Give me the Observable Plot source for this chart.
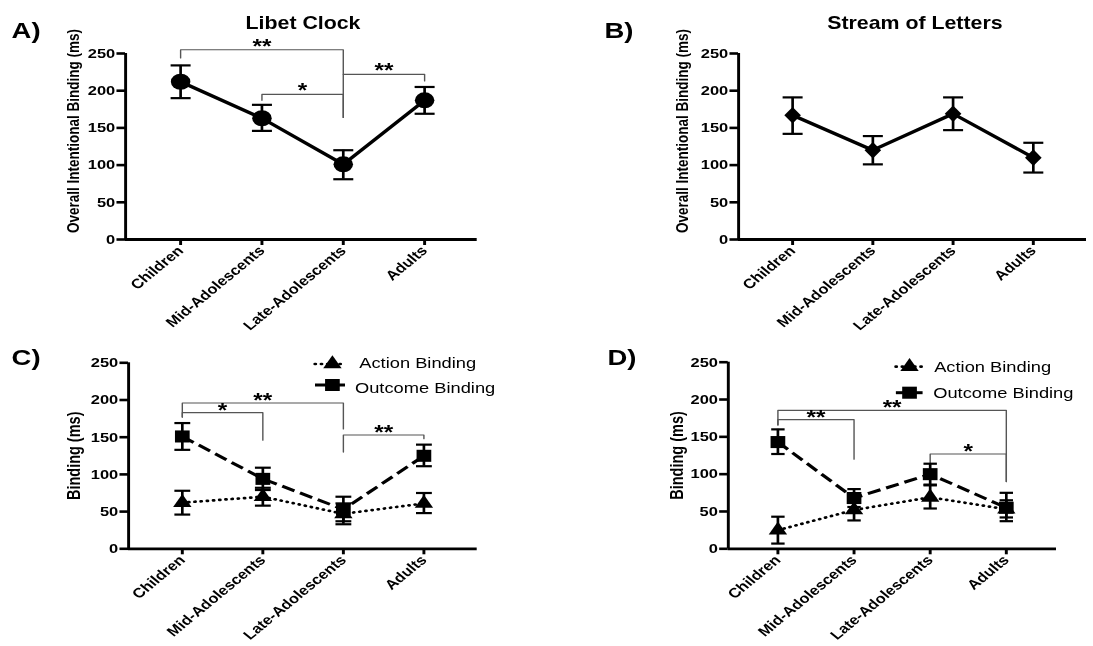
<!DOCTYPE html>
<html><head><meta charset="utf-8">
<script src="https://cdn.jsdelivr.net/npm/d3@7"></script>
<script src="https://cdn.jsdelivr.net/npm/@observablehq/plot@0.6"></script>
<style>
html,body{margin:0;padding:0;background:#fff;}
#wrap{position:relative;width:1093px;height:646px;overflow:hidden;background:#fff;}
#stage{position:absolute;left:0;top:0;width:896px;height:646px;transform:scaleX(1.21987);transform-origin:0 0;font-family:"Liberation Sans",Arial,sans-serif;}
#stage svg{position:absolute;}
</style></head><body><div id="wrap"><div id="stage"></div></div>
<script>
// ---------------- data ----------------
const groups = ["Children", "Mid-Adolescents", "Late-Adolescents", "Adults"];
const yTicks = [0, 50, 100, 150, 200, 250];

// A) Libet Clock – overall intentional binding (ms)
const libetMean = [212, 163, 101, 187];
const libetLow  = [190, 146, 81, 169];
const libetHigh = [234, 181, 120, 205];

// B) Stream of Letters – overall intentional binding (ms)
const streamMean = [167, 120, 169, 110];
const streamLow  = [142, 101, 147, 90];
const streamHigh = [191, 139, 191, 130];

// C) Libet Clock – action / outcome binding (ms)
const libetActionMean  = [62, 70, 47, 61];
const libetActionLow   = [46, 58, 33, 48];
const libetActionHigh  = [78, 82, 61, 75];
const libetOutcomeMean = [151, 94, 53, 125];
const libetOutcomeLow  = [133, 79, 37, 111];
const libetOutcomeHigh = [169, 109, 70, 140];

// D) Stream of Letters – action / outcome binding (ms)
const streamActionMean  = [25, 52, 69, 53];
const streamActionLow   = [7, 38, 54, 37];
const streamActionHigh  = [43, 65, 85, 65];
const streamOutcomeMean = [143, 68, 100, 55];
const streamOutcomeLow  = [127, 56, 86, 42];
const streamOutcomeHigh = [160, 80, 114, 75];

// significance brackets (values in ms): bracket top, end of left leg, end of right leg
const bracketsA = [
  {from: "Children", to: "Late-Adolescents", top: 255, left: 244, right: 164, label: "**"},
  {from: "Mid-Adolescents", to: "Late-Adolescents", top: 195, left: 187, right: 164, label: "*"},
  {from: "Late-Adolescents", to: "Adults", top: 222, left: 222, right: 213, label: "**"}
];
const bracketsC = [
  {from: "Children", to: "Late-Adolescents", top: 196, left: 177, right: 161, label: "**"},
  {from: "Children", to: "Mid-Adolescents", top: 183, left: 177, right: 146, label: "*"},
  {from: "Late-Adolescents", to: "Adults", top: 153, left: 130, right: 148, label: "**"}
];
const bracketsD = [
  {from: "Children", to: "Adults", top: 185.5, left: 166, right: 90, label: "**"},
  {from: "Children", to: "Mid-Adolescents", top: 173, left: 166, right: 120, label: "**"},
  {from: "Late-Adolescents", to: "Adults", top: 127, left: 115, right: 90, label: "*"}
];

// ---------------- helpers ----------------
const S = 1093 / 896;   // horizontal stretch of the original figure
const FONT = "Liberation Sans, Arial, Helvetica, sans-serif";

const rowsOf = (m, lo, hi) => groups.map((g, i) => ({i, group: g, mean: m[i], low: lo[i], high: hi[i]}));

const capSymbol = {draw(ctx, size) { const w = Math.sqrt(size / Math.PI); ctx.moveTo(-w, 0); ctx.lineTo(w, 0); }};
const diamondSymbol = {draw(ctx, size) { const r = Math.sqrt(size / Math.PI); ctx.moveTo(0, -r); ctx.lineTo(r * 0.82, 0); ctx.lineTo(0, r); ctx.lineTo(-r * 0.82, 0); ctx.closePath(); }};

function bracketPoints(list) {
  const pts = [];
  list.forEach((b, k) => {
    const a = groups.indexOf(b.from), c = groups.indexOf(b.to);
    pts.push({id: k, x: a, y: b.left}, {id: k, x: a, y: b.top}, {id: k, x: c, y: b.top}, {id: k, x: c, y: b.right});
  });
  return pts;
}

function makePanel(p) {
  const L = p.layout;
  const step = (L.t3 - L.t0) / 3;
  const padL = (L.t0 - L.axisX) / step, padR = (L.endX - L.t3) / step;
  const marks = [
    Plot.ruleX([-padL], {y1: 0, y2: 250, stroke: "#000", strokeWidth: 2.4}),
    Plot.ruleY([0], {x1: -padL, x2: 3 + padR, stroke: "#000", strokeWidth: 2.8}),
    Plot.axisY({ticks: yTicks, tickSize: 7, tickPadding: 1.5, strokeWidth: 2.6, fontSize: 13.5, fontWeight: "bold", label: null, fill: "#000"}),
    Plot.axisX({ticks: [0, 1, 2, 3], tickFormat: i => groups[i], tickRotate: -45, tickSize: 6, tickPadding: 3, strokeWidth: 2.4, fontSize: 13.5, fontWeight: "bold", label: null, fill: "#000"}),
    Plot.text([p.ytitle], {frameAnchor: "left", textAnchor: "middle", lineAnchor: "middle", rotate: -90, dx: p.ytDx, dy: p.ytDy, fontSize: p.ytSize, fontWeight: "bold", fill: "#000"})
  ];
  if (p.brackets) {
    marks.push(
      Plot.line(bracketPoints(p.brackets), {x: "x", y: "y", z: "id", stroke: "#555", strokeWidth: 1.15}),
      Plot.text(p.brackets, {x: b => (groups.indexOf(b.from) + groups.indexOf(b.to)) / 2, y: "top", text: "label", dy: p.starDy, fontSize: 20, fontWeight: "bold", fill: "#000"})
    );
  }
  for (const s of p.series) {
    marks.push(
      Plot.ruleX(s.rows, {x: "i", y1: "low", y2: "high", stroke: "#000", strokeWidth: 2.2}),
      Plot.dot(s.rows, {x: "i", y: "low", symbol: capSymbol, r: p.cap, stroke: "#000", fill: "none", strokeWidth: 2.2}),
      Plot.dot(s.rows, {x: "i", y: "high", symbol: capSymbol, r: p.cap, stroke: "#000", fill: "none", strokeWidth: 2.2})
    );
  }
  for (const s of p.series) {
    marks.push(Plot.line(s.rows, {x: "i", y: "mean", stroke: "#000", strokeWidth: s.lw, strokeDasharray: s.dash, strokeLinecap: s.cap, strokeLinejoin: "round"}));
  }
  for (const s of p.series) {
    marks.push(Plot.dot(s.rows, {x: "i", y: "mean", symbol: s.symbol, r: s.r, fill: "#000", stroke: "none"}));
  }
  const svg = Plot.plot({
    width: p.W, height: p.H,
    marginLeft: L.axisX / S - p.ox,
    marginRight: p.ox + p.W - L.endX / S,
    marginTop: L.yTop - p.oy,
    marginBottom: p.oy + p.H - L.yBottom,
    x: {type: "linear", domain: [-padL, 3 + padR]},
    y: {domain: [0, 250]},
    style: {background: "transparent", overflow: "visible", fontFamily: FONT, color: "#000"},
    marks
  });
  svg.style.left = p.ox + "px";
  svg.style.top = p.oy + "px";
  document.getElementById("stage").appendChild(svg);
}

// ---------------- panels ----------------
makePanel({
  ox: 0, oy: 0, W: 448, H: 328,
  layout: {axisX: 125, endX: 476.7, t0: 180, t3: 424, yTop: 53, yBottom: 239},
  ytitle: "Overall Intentional Binding (ms)", ytDx: -42.5, ytDy: -15.5, ytSize: 13.5,
  brackets: bracketsA, starDy: -3.5, cap: 8.2,
  series: [{rows: rowsOf(libetMean, libetLow, libetHigh), symbol: "circle", r: 8, lw: 3.2, dash: null, cap: "round"}]
});
makePanel({
  ox: 448, oy: 0, W: 448, H: 328,
  layout: {axisX: 738, endX: 1086, t0: 792, t3: 1032.7, yTop: 53, yBottom: 239},
  ytitle: "Overall Intentional Binding (ms)", ytDx: -46, ytDy: -15.5, ytSize: 13.5,
  brackets: null, starDy: 0, cap: 8.2,
  series: [{rows: rowsOf(streamMean, streamLow, streamHigh), symbol: diamondSymbol, r: 8.3, lw: 3.2, dash: null, cap: "round"}]
});
makePanel({
  ox: 0, oy: 328, W: 448, H: 318,
  layout: {axisX: 128, endX: 476.7, t0: 181.7, t3: 423.3, yTop: 362.3, yBottom: 548.3},
  ytitle: "Binding (ms)", ytDx: -44.7, ytDy: 0, ytSize: 14.5,
  brackets: bracketsC, starDy: -2.5, cap: 6.5,
  series: [
    {rows: rowsOf(libetActionMean, libetActionLow, libetActionHigh), symbol: "triangle", r: 5.6, lw: 2.7, dash: "0.5 4.6", cap: "round"},
    {rows: rowsOf(libetOutcomeMean, libetOutcomeLow, libetOutcomeHigh), symbol: "square", r: 6.8, lw: 3, dash: "11 5", cap: "butt"}
  ]
});
makePanel({
  ox: 448, oy: 328, W: 448, H: 318,
  layout: {axisX: 727.7, endX: 1056, t0: 777.3, t3: 1005.7, yTop: 361.7, yBottom: 548.3},
  ytitle: "Binding (ms)", ytDx: -42, ytDy: 0, ytSize: 14.5,
  brackets: bracketsD, starDy: -2.5, cap: 5.5,
  series: [
    {rows: rowsOf(streamActionMean, streamActionLow, streamActionHigh), symbol: "triangle", r: 5.6, lw: 2.7, dash: "0.5 4.6", cap: "round"},
    {rows: rowsOf(streamOutcomeMean, streamOutcomeLow, streamOutcomeHigh), symbol: "square", r: 6.8, lw: 3, dash: "11 5", cap: "butt"}
  ]
});

// ---------------- titles, panel letters, legends ----------------
const ns = "http://www.w3.org/2000/svg";
const ov = document.createElementNS(ns, "svg");
ov.setAttribute("width", 896); ov.setAttribute("height", 646);
ov.style.left = "0px"; ov.style.top = "0px"; ov.style.fontFamily = FONT; ov.style.overflow = "visible";
function txt(s, x, y, size, weight, anchor) {
  const t = document.createElementNS(ns, "text");
  t.setAttribute("x", x); t.setAttribute("y", y);
  t.setAttribute("font-size", size); t.setAttribute("font-weight", weight);
  t.setAttribute("text-anchor", anchor || "start"); t.setAttribute("fill", "#000");
  t.textContent = s; ov.appendChild(t);
}
function el(tag, attrs) {
  const e = document.createElementNS(ns, tag);
  for (const k in attrs) e.setAttribute(k, attrs[k]);
  ov.appendChild(e);
}
const panelLetters = ["A)", "B)", "C)", "D)"];
const panelTitles = ["Libet Clock", "Stream of Letters"];
const seriesNames = ["Action Binding", "Outcome Binding"];
txt(panelLetters[0], 9.5, 38, 22.5, "bold");
txt(panelLetters[1], 495.5, 38.5, 22.5, "bold");
txt(panelLetters[2], 9.5, 365.5, 22.5, "bold");
txt(panelLetters[3], 498, 365.5, 22.5, "bold");
txt(panelTitles[0], 248.4, 29, 17.5, "bold", "middle");
txt(panelTitles[1], 750, 29.5, 17.5, "bold", "middle");

function legend(xa, xb, cx, yA, yO, txA, txO, baseA, baseO) {
  el("line", {x1: xa, x2: xb, y1: yA, y2: yA, stroke: "#000", "stroke-width": 2.7, "stroke-dasharray": "0.5 4.6", "stroke-linecap": "round"});
  el("path", {d: d3.symbol(d3.symbolTriangle, Math.PI * 5.6 * 5.6)(), transform: `translate(${cx},${yA})`, fill: "#000"});
  el("line", {x1: xa, x2: xb, y1: yO, y2: yO, stroke: "#000", "stroke-width": 3});
  el("path", {d: d3.symbol(d3.symbolSquare, Math.PI * 6.8 * 6.8)(), transform: `translate(${cx},${yO})`, fill: "#000"});
  txt(seriesNames[0], txA, baseA, 15, "normal");
  txt(seriesNames[1], txO, baseO, 15, "normal");
}
legend(258.2, 282.8, 272.5, 364, 385, 294.5, 291, 368.5, 393);
legend(734.4, 756.3, 745.6, 366.7, 392.7, 765.8, 765, 371.7, 398.3);

document.getElementById("stage").appendChild(ov);
</script>
</body></html>
